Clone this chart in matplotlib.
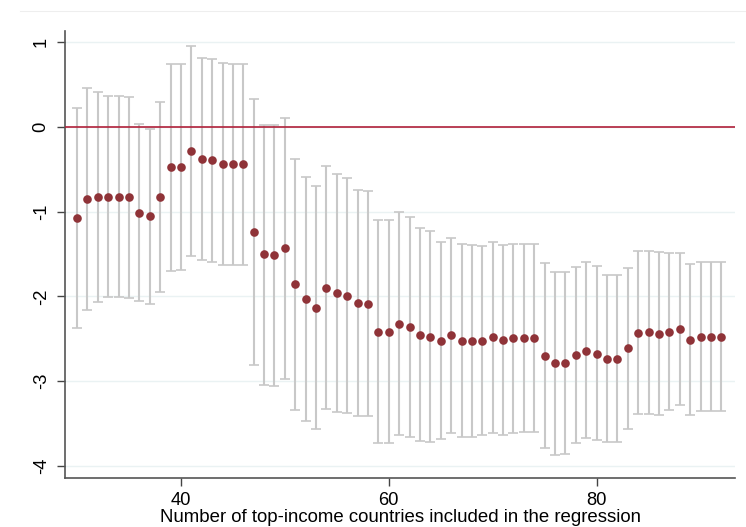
import matplotlib
matplotlib.use("Agg")
import matplotlib.pyplot as plt
import numpy as np

plt.rcParams['font.family'] = ['Liberation Sans', 'DejaVu Sans']

n_countries = list(range(30, 93))
estimate = [-1.07, -0.846, -0.823, -0.823, -0.823, -0.83, -1.016, -1.051, -0.823, -0.476,
            -0.472, -0.28, -0.382, -0.394, -0.441, -0.441, -0.441, -1.24, -1.504, -1.516,
            -1.433, -1.858, -2.031, -2.13, -1.898, -1.957, -1.992, -2.075, -2.083, -2.417,
            -2.417, -2.319, -2.362, -2.449, -2.475, -2.527, -2.457, -2.524, -2.528, -2.52,
            -2.481, -2.516, -2.489, -2.492, -2.492, -2.697, -2.787, -2.787, -2.689, -2.638,
            -2.673, -2.733, -2.737, -2.613, -2.429, -2.421, -2.437, -2.421, -2.385, -2.511,
            -2.473, -2.473, -2.473]
ci_upper = [0.228, 0.465, 0.417, 0.366, 0.366, 0.35, 0.031, -0.02, 0.291, 0.748,
            0.748, 0.961, 0.815, 0.807, 0.752, 0.748, 0.748, 0.327, 0.028, 0.028,
            0.102, -0.374, -0.587, -0.693, -0.457, -0.551, -0.602, -0.74, -0.752, -1.102,
            -1.102, -1.004, -1.063, -1.189, -1.231, -1.361, -1.305, -1.38, -1.391, -1.399,
            -1.36, -1.395, -1.376, -1.383, -1.383, -1.608, -1.706, -1.706, -1.651, -1.596,
            -1.643, -1.745, -1.745, -1.666, -1.462, -1.458, -1.478, -1.49, -1.486, -1.619,
            -1.596, -1.596, -1.596]
ci_lower = [-2.366, -2.154, -2.063, -2.008, -2.008, -2.012, -2.059, -2.087, -1.949, -1.705,
            -1.689, -1.52, -1.575, -1.594, -1.634, -1.626, -1.626, -2.805, -3.04, -3.06,
            -2.972, -3.343, -3.472, -3.559, -3.331, -3.366, -3.378, -3.413, -3.413, -3.728,
            -3.728, -3.634, -3.657, -3.701, -3.717, -3.686, -3.608, -3.663, -3.663, -3.636,
            -3.608, -3.636, -3.608, -3.6, -3.6, -3.785, -3.868, -3.86, -3.726, -3.675,
            -3.699, -3.717, -3.717, -3.563, -3.39, -3.39, -3.394, -3.339, -3.28, -3.40,
            -3.355, -3.355, -3.355]
y_ticks = [1, 0, -1, -2, -3, -4]
x_ticks = [40, 60, 80]
x_label = "Number of top-income countries included in the regression"

W, H = 746, 527
fig = plt.figure(figsize=(W / 100, H / 100), dpi=100)
fig.patch.set_facecolor('white')
l, r, t, b = 65, 735, 31, 478
ax = fig.add_axes([l / W, 1 - b / H, (r - l) / W, (b - t) / H])

# faint graph-region border line at top
fig.add_artist(plt.Line2D([20 / W, 1], [1 - 11 / H, 1 - 11 / H], color='#EEEEEE', lw=0.8))

x = np.array(n_countries)
est = np.array(estimate)
lo = np.array(ci_lower)
hi = np.array(ci_upper)

for yv in y_ticks:
    ax.axhline(yv, color='#EAF2F3', lw=1.0, zorder=0)

ax.errorbar(x, est, yerr=[est - lo, hi - est], fmt='none', ecolor='#C8C8C8',
            elinewidth=1.5, capsize=3.3, capthick=1.2, zorder=2)
ax.axhline(0, color='#B0203A', lw=1.2, zorder=3)
ax.plot(x, est, 'o', color='#8F3338', markersize=6.2, markeredgewidth=0, zorder=4)

ax.set_xlim(28.84, 93.32)
ax.set_ylim(-4.142, 1.133)
ax.set_xticks(x_ticks)
ax.set_yticks(y_ticks)
ax.set_yticklabels([str(v) for v in y_ticks], rotation=90, va='center')
ax.tick_params(axis='both', direction='out', length=6, width=1, color='#444444',
               labelsize=13.2, labelcolor='black')
ax.tick_params(axis='y', pad=5)
ax.tick_params(axis='x', pad=4)
for s in ['top', 'right']:
    ax.spines[s].set_visible(False)
for s in ['left', 'bottom']:
    ax.spines[s].set_color('#555555')
    ax.spines[s].set_linewidth(1.2)
ax.set_xlabel(x_label, fontsize=13.4, labelpad=0)

fig.savefig('out.png', dpi=100)
